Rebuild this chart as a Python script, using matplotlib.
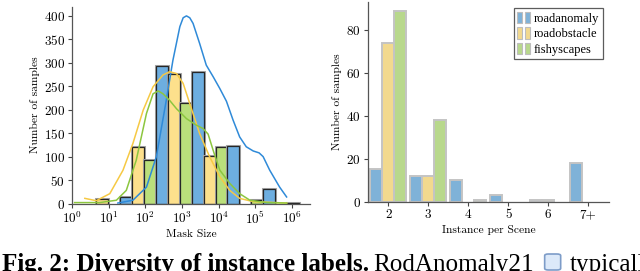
import numpy as np
import matplotlib
matplotlib.use('Agg')
import matplotlib.pyplot as plt
from matplotlib.patches import Patch, FancyBboxPatch
from matplotlib.legend_handler import HandlerTuple

plt.rcParams['font.family'] = ['cmr10', 'DejaVu Serif']
plt.rcParams['mathtext.fontset'] = 'cm'
plt.rcParams['axes.formatter.use_mathtext'] = True
plt.rcParams['font.size'] = 8.3
plt.rcParams['xtick.labelsize'] = 9.5
plt.rcParams['ytick.labelsize'] = 9.5

# ---- left: mask size histogram (log10 bin edges, counts per dataset) ----
mask_bin_edges_log = [0.66, 1.636, 2.612, 3.588, 4.564, 5.54, 6.516]
mask_yellow = [10, 120, 277, 101, 0, 0]
mask_green = [0, 92, 215, 121, 8, 1]
mask_blue = [13, 293, 280, 123, 30, 0]

# density curves (log10 mask size, count scale)
kde_blue_x = [1.25, 1.66, 2.03, 2.30, 2.57, 2.75, 2.94, 3.03, 3.12, 3.21, 3.30, 3.48,
              3.66, 3.85, 4.03, 4.21, 4.39, 4.57, 4.75, 4.94, 5.10, 5.21, 5.39, 5.66, 5.85]
kde_blue_y = [1, 7, 35, 100, 220, 305, 377, 396, 400, 396, 384, 341,
              295, 270, 245, 218, 178, 142, 121, 112, 108, 100, 71, 35, 14]
kde_yellow_x = [0.35, 0.66, 1.03, 1.39, 1.66, 1.94, 2.21, 2.48, 2.66, 2.85, 3.03,
                3.21, 3.48, 3.75, 4.03, 4.30, 4.57, 4.94, 5.85]
kde_yellow_y = [11, 6, 21, 71, 128, 199, 249, 274, 281, 277, 256,
                213, 149, 100, 57, 28, 11, 4, 1]
kde_green_x = [0.07, 0.75, 1.21, 1.48, 1.75, 2.03, 2.21, 2.35, 2.48, 2.66, 2.85,
               3.12, 3.39, 3.57, 3.71, 3.87, 4.03, 4.30, 4.57, 4.85, 5.30, 5.85]
kde_green_y = [2, 2, 7, 28, 92, 192, 234, 240, 234, 220, 202,
               181, 167, 160, 148, 108, 71, 43, 21, 7, 2, 1]

# ---- right: instances per scene ----
scene_labels = ['2', '3', '4', '5', '6', '7+']
scene_blue = [15, 12, 10, 3, 1, 18]
scene_yellow = [74, 12, 0, 0, 1, 0]
scene_green = [89, 38, 1, 0, 0, 0]
dataset_names = ['roadanomaly', 'roadobstacle', 'fishyscapes']

fig = plt.figure(figsize=(6.4, 2.71), dpi=100)
ax1 = fig.add_axes([0.1125, 0.249, 0.372, 0.727])
ax2 = fig.add_axes([0.5745, 0.2557, 0.377, 0.737])

bar_cols = {'y': '#fde08c', 'g': '#badf7b', 'b': '#6daee0'}
line_cols = {'y': '#f6c944', 'g': '#8cc63f', 'b': '#2f8ad8'}

edges = mask_bin_edges_log
for i in range(len(edges) - 1):
    w = (edges[i + 1] - edges[i]) / 3
    for k, (vals, c) in enumerate([(mask_yellow, 'y'), (mask_green, 'g'), (mask_blue, 'b')]):
        h = vals[i]
        if h == 0:
            continue
        lo = 10 ** (edges[i] + k * w)
        hi = 10 ** (edges[i] + (k + 1) * w)
        ax1.bar(lo, h, width=hi - lo, align='edge', color=bar_cols[c],
                edgecolor='#a8a8a8', linewidth=2.2, zorder=2)
        ax1.bar(lo, h, width=hi - lo, align='edge', color=bar_cols[c],
                edgecolor='#262626', linewidth=0.9, zorder=2)

for xs, ys, c in [(kde_blue_x, kde_blue_y, 'b'), (kde_yellow_x, kde_yellow_y, 'y'),
                  (kde_green_x, kde_green_y, 'g')]:
    ax1.plot(10 ** np.array(xs), ys, color=line_cols[c], linewidth=1.1, zorder=3)

ax1.set_xscale('log')
ax1.set_xlim(1, 10 ** 6.49)
ax1.set_ylim(0, 420)
ax1.set_xticks([10 ** i for i in range(7)])
ax1.xaxis.set_minor_locator(matplotlib.ticker.NullLocator())
ax1.set_yticks(range(0, 401, 50))
ax1.set_xlabel('Mask Size', labelpad=2)
ax1.set_ylabel('Number of samples', labelpad=3)

# right chart
x = np.arange(len(scene_labels))
bw = 0.3
for off, vals, col in [(-bw, scene_blue, '#7fb2d8'), (0, scene_yellow, '#f2d98e'),
                       (bw, scene_green, '#b8d88c')]:
    for xi, v in zip(x, vals):
        if v == 0:
            continue
        ax2.bar(xi + off, v, width=bw, color=col, edgecolor='#c4c4c4', linewidth=1.4, zorder=2)

ax2.set_xlim(-0.515, 5.52)
ax2.set_ylim(0, 93)
ax2.set_xticks(x)
ax2.set_xticklabels(scene_labels)
ax2.set_yticks(range(0, 81, 20))
ax2.set_xlabel('Instance per Scene', labelpad=3)
ax2.set_ylabel('Number of samples', labelpad=3)

handles = []
for c in ['#7fb2d8', '#f2d98e', '#b8d88c']:
    handles.append((Patch(facecolor=c, edgecolor='#bdbdbd', linewidth=0.8),
                    Patch(facecolor=c, edgecolor='#bdbdbd', linewidth=0.8)))
leg = ax2.legend(handles, dataset_names, loc='upper right',
                 handler_map={tuple: HandlerTuple(ndivide=2, pad=0.3)},
                 handlelength=1.0, handleheight=1.0, handletextpad=0.3,
                 borderpad=0.3, labelspacing=0.2, fancybox=False,
                 prop={'family': 'Liberation Serif', 'size': 9},
                 bbox_to_anchor=(1.0, 1.0))
leg.get_frame().set_edgecolor('#333333')
leg.get_frame().set_linewidth(0.9)

for ax in (ax1, ax2):
    for s in ('top', 'right'):
        ax.spines[s].set_visible(False)
    for s in ('left', 'bottom'):
        ax.spines[s].set_color('#555555')
        ax.spines[s].set_linewidth(0.9)
    ax.tick_params(direction='out', length=3, width=0.8, color='#444444', pad=2)

# caption: size the bold part to span the same width as the reference
r = fig.canvas.get_renderer()
y0 = 0.0
t1 = fig.text(0.003, y0, 'Fig. 2: Diversity of instance labels.', fontsize=15,
              fontweight='bold', family='Liberation Serif', va='baseline')
bb = t1.get_window_extent(r)
fs = 15 * (368 / bb.width)
t1.set_fontsize(fs)
bb = t1.get_window_extent(r)
t2 = fig.text((bb.x1 + 4) / 640, y0, 'RodAnomaly21', fontsize=fs,
              family='Liberation Serif', va='baseline')
bb2 = t2.get_window_extent(r)
bx = bb2.x1 + 11
fig.patches.append(FancyBboxPatch((bx / 640, 1 / 271), 16 / 640, 16 / 271,
                                  boxstyle='round,pad=0,rounding_size=0.006',
                                  transform=fig.transFigure, facecolor='#dce9f9',
                                  edgecolor='#7d9cc8', linewidth=1.2))
fig.text((bx + 25) / 640, y0, 'typically', fontsize=fs,
         family='Liberation Serif', va='baseline')

fig.savefig('out.png', dpi=100)
